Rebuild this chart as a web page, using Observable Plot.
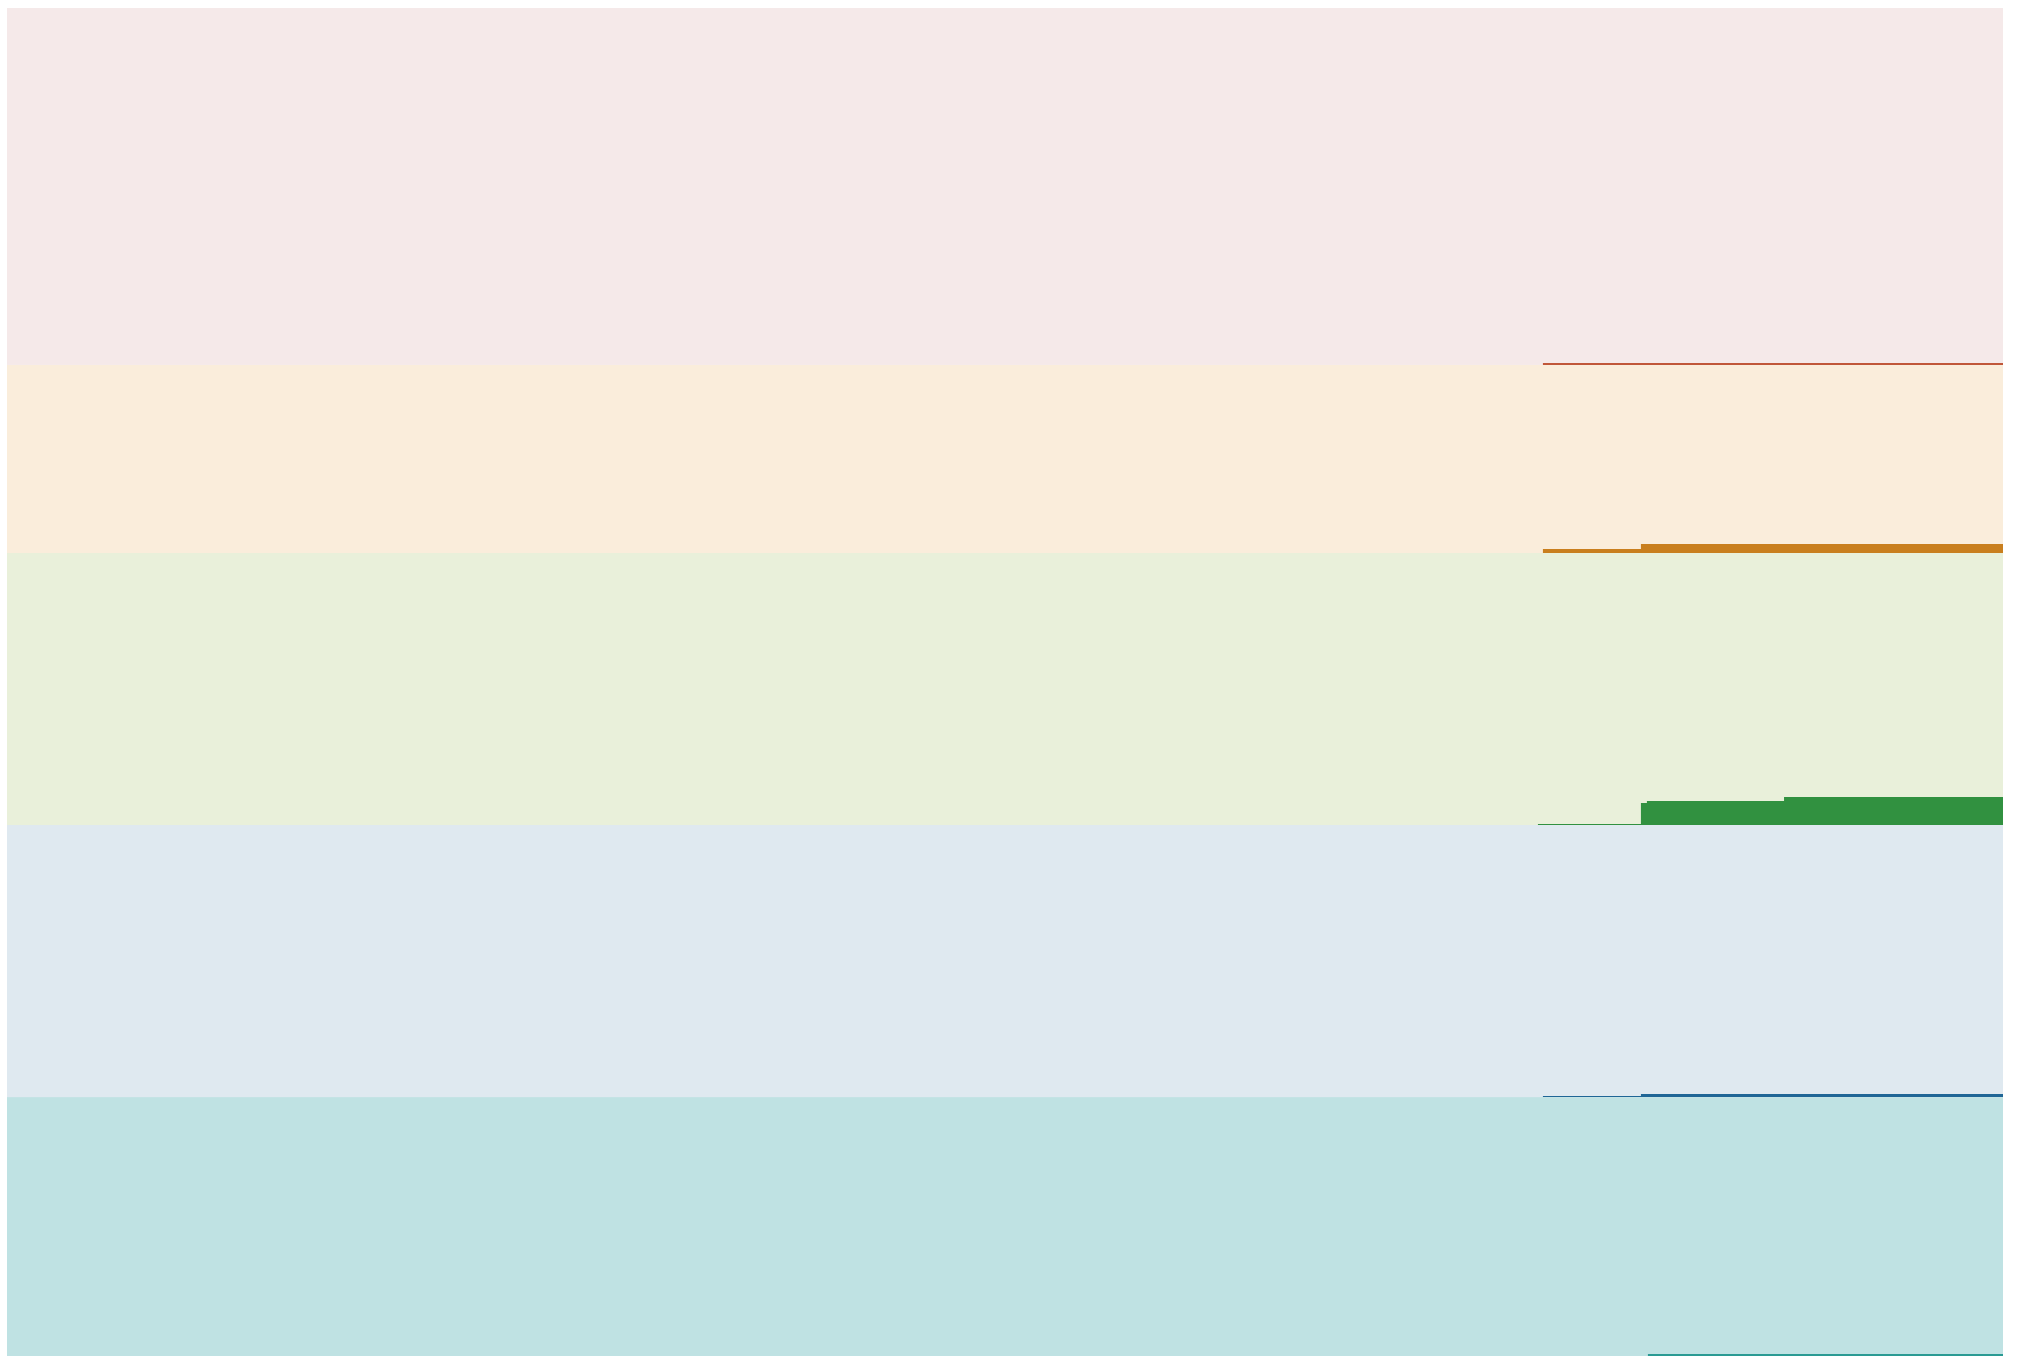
<!DOCTYPE html>
<html>
<head>
<meta charset="utf-8">
<script src="https://cdn.jsdelivr.net/npm/d3@7"></script>
<script src="https://cdn.jsdelivr.net/npm/@observablehq/plot@0.6"></script>
<style>
  html, body { margin: 0; padding: 0; background: #ffffff; }
  #chart svg { display: block; }
</style>
</head>
<body>
<div id="chart"></div>
<script>
// Categories from bottom to top
const categories = ["teal", "blue", "green", "peach", "pink"];
// Share of the full height held by each category's band (bottom to top)
const bandShares = [19.21, 20.18, 20.18, 13.95, 26.48];
const bandColors = ["#bfe2e3", "#dfe9f0", "#e9f0da", "#faeddb", "#f5e9e9"];
const lineColors = ["#2a9a93", "#1f6696", "#319140", "#c97f1e", "#c0573a"];

// x domain (time index)
const xDomain = [0, 100];

// Series values per category: [x, value] step points
const tealX = [82.21, 100];    const tealV = [0.15, 0.15];
const blueX = [76.95, 81.86, 100]; const blueV = [0.07, 0.22, 0.22];
const greenX = [76.7, 81.86, 82.16, 89.03, 100]; const greenV = [0.07, 1.63, 1.78, 2.08, 2.08];
const peachX = [76.95, 81.86, 100]; const peachV = [0.3, 0.67, 0.67];
const pinkX = [76.95, 100];    const pinkV = [0.15, 0.15];

const seriesX = [tealX, blueX, greenX, peachX, pinkX];
const seriesV = [tealV, blueV, greenV, peachV, pinkV];

// Build band table
let acc = 0;
const bands = categories.map((c, i) => {
  const b = {cat: c, y1: acc, y2: acc + bandShares[i], x1: xDomain[0], x2: xDomain[1], fill: bandColors[i]};
  acc += bandShares[i];
  return b;
});

// Build dark-area table
const areas = [];
categories.forEach((c, i) => {
  seriesX[i].forEach((x, j) => {
    areas.push({cat: c, x, base: bands[i].y1, top: bands[i].y1 + seriesV[i][j], fill: lineColors[i]});
  });
});

const chart = Plot.plot({
  width: 2010,
  height: 1356,
  marginLeft: 7,
  marginRight: 7,
  marginTop: 8,
  marginBottom: 0,
  x: {domain: xDomain, axis: null},
  y: {domain: [0, 100], axis: null},
  marks: [
    Plot.rect(bands, {x1: "x1", x2: "x2", y1: "y1", y2: "y2", fill: "fill"}),
    ...categories.map(c =>
      Plot.areaY(areas.filter(d => d.cat === c), {
        x: "x", y1: "base", y2: "top", fill: "fill", curve: "step-after"
      })
    )
  ]
});
document.getElementById("chart").appendChild(chart);
</script>
</body>
</html>
